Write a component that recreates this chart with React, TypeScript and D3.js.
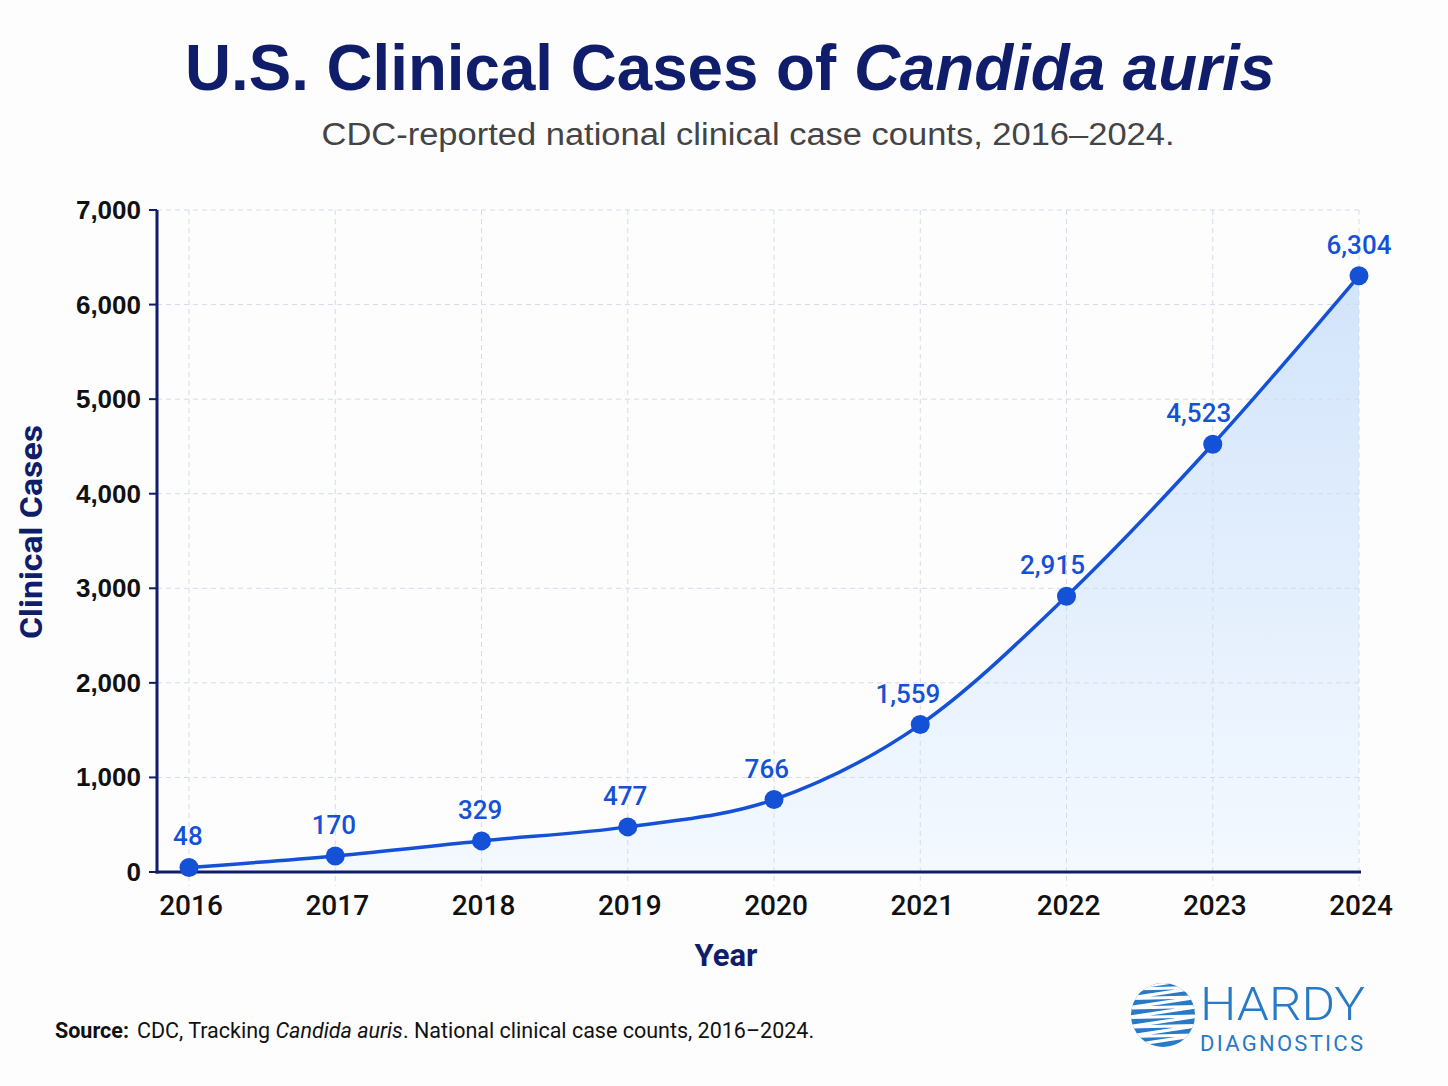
import React from 'react';
import * as d3 from 'd3';

const years = ['2016', '2017', '2018', '2019', '2020', '2021', '2022', '2023', '2024'];
const cases = [48, 170, 329, 477, 766, 1559, 2915, 4523, 6304];
const yTicks = [0, 1000, 2000, 3000, 4000, 5000, 6000, 7000];

const W = 1448;
const H = 1086;
const navy = '#0f1d6b';
const blue = '#1451d6';
const logoBlue = '#2879c6';
const fmt = d3.format(',');

const x = d3.scalePoint<string>().domain(years).range([189, 1359]);
const y = d3.scaleLinear().domain([0, 7000]).range([872, 210]);

type Pt = { year: string; value: number; next: number };
const points: Pt[] = years.map((year, i) => ({
  year,
  value: cases[i],
  next: cases[i + 1] ?? cases[i],
}));

const line = d3
  .line<Pt>()
  .x((d) => x(d.year)!)
  .y((d) => y(d.value))
  .curve(d3.curveMonotoneX);

const area = d3
  .area<Pt>()
  .x((d) => x(d.year)!)
  .y0(y(0))
  .y1((d) => y(d.value))
  .curve(d3.curveMonotoneX);

// nudge value labels left where the line climbs steeply out of the point
const labelShift = (d: Pt) => -Math.min(14, Math.max(0, (d.next - d.value) / 110));

// white zig-zag stripes across the globe mark
const Globe = ({ cx, cy, r }: { cx: number; cy: number; r: number }) => {
  const stripes: [number, number][] = [];
  for (let i = 0; i < 7; i++) {
    const yy = cy + r - 5 - i * 9.5;
    stripes.push([cx - r - 4, yy + 4]);
    stripes.push([cx + r + 4, yy - 7]);
  }
  const zig = d3.line()(stripes) as string;
  return (
    <g>
      <clipPath id="globe-clip">
        <circle cx={cx} cy={cy} r={r} />
      </clipPath>
      <circle cx={cx} cy={cy} r={r} fill={logoBlue} />
      <path d={zig} clipPath="url(#globe-clip)" fill="none" stroke="#fff" strokeWidth={3} />
    </g>
  );
};

export default function App() {
  const top = y(7000);
  const bottom = y(0);
  const left = 157;
  const right = x('2024')!;

  return (
    <div style={{ position: 'absolute', left: 0, top: 0 }}>
      <svg width={W} height={H} style={{ display: 'block', background: '#fdfdfe' }}>
        <defs>
          <linearGradient id="fillGrad" x1="0" y1="0" x2="0" y2="1">
            <stop offset="0%" stopColor="#d2e4fb" />
            <stop offset="100%" stopColor="#f4f9ff" />
          </linearGradient>
        </defs>

        {/* title */}
        <text
          x={730}
          y={90}
          textAnchor="middle"
          fontFamily="Liberation Sans, Arial, sans-serif"
          fontWeight="bold"
          fontSize={64}
          fill={navy}
          textLength={1090}
          lengthAdjust="spacingAndGlyphs"
        >
          U.S. Clinical Cases of <tspan fontStyle="italic">Candida auris</tspan>
        </text>
        <text
          x={748}
          y={145}
          textAnchor="middle"
          fontFamily="Liberation Sans, Arial, sans-serif"
          fontSize={31}
          fill="#444"
          textLength={853}
          lengthAdjust="spacingAndGlyphs"
        >
          CDC-reported national clinical case counts, 2016–2024.
        </text>

        {/* area under the curve */}
        <path d={area(points)!} fill="url(#fillGrad)" />

        {/* grid */}
        {yTicks.slice(1).map((t) => (
          <line
            key={'gy' + t}
            x1={left}
            x2={right}
            y1={y(t)}
            y2={y(t)}
            stroke="#d3dce8"
            strokeWidth={1}
            strokeDasharray="5,4"
          />
        ))}
        {years.map((yr) => (
          <line
            key={'gx' + yr}
            x1={x(yr)}
            x2={x(yr)}
            y1={top}
            y2={bottom + 14}
            stroke="#d3dce8"
            strokeWidth={1}
            strokeDasharray="5,4"
          />
        ))}

        {/* axes */}
        <line x1={left} x2={left} y1={top} y2={bottom + 1.5} stroke={navy} strokeWidth={3} />
        <line x1={left - 1.5} x2={right + 2} y1={bottom} y2={bottom} stroke={navy} strokeWidth={3} />
        {yTicks.map((t) => (
          <g key={'yt' + t}>
            <line x1={left - 8} x2={left} y1={y(t)} y2={y(t)} stroke={navy} strokeWidth={2} />
            <text
              x={141}
              y={y(t) + 9}
              textAnchor="end"
              fontFamily="Liberation Sans, Arial, sans-serif"
              fontWeight="bold"
              fontSize={26}
              fill="#111"
            >
              {fmt(t)}
            </text>
          </g>
        ))}
        {years.map((yr) => (
          <text
            key={'xt' + yr}
            x={x(yr)! + 2}
            y={915}
            textAnchor="middle"
            fontFamily="Roboto, sans-serif"
            fontWeight={500}
            fontSize={28}
            fill="#111"
          >
            {yr}
          </text>
        ))}

        {/* axis titles */}
        <text
          x={726}
          y={966}
          textAnchor="middle"
          fontFamily="Roboto, sans-serif"
          fontWeight="bold"
          fontSize={31}
          fill={navy}
        >
          Year
        </text>
        <text
          transform="translate(42,532) rotate(-90)"
          textAnchor="middle"
          fontFamily="Roboto, sans-serif"
          fontWeight="bold"
          fontSize={31}
          fill={navy}
          textLength={214}
          lengthAdjust="spacingAndGlyphs"
        >
          Clinical Cases
        </text>

        {/* series */}
        <path d={line(points)!} fill="none" stroke={blue} strokeWidth={3.5} />
        {points.map((d) => (
          <circle key={'p' + d.year} cx={x(d.year)} cy={y(d.value)} r={9.5} fill={blue} />
        ))}
        {points.map((d) => (
          <text
            key={'l' + d.year}
            x={x(d.year)! + labelShift(d)}
            y={y(d.value) - 22}
            textAnchor="middle"
            fontFamily="Roboto, sans-serif"
            fontWeight={500}
            fontSize={26}
            fill={blue}
          >
            {fmt(d.value)}
          </text>
        ))}

        {/* source line */}
        <text x={55} y={1038} fontFamily="Roboto, sans-serif" fontSize={21.5} fill="#111">
          <tspan fontWeight="bold">Source:</tspan>
          <tspan dx={8}>CDC, Tracking </tspan>
          <tspan fontStyle="italic">Candida auris</tspan>
          <tspan>. National clinical case counts, 2016–2024.</tspan>
        </text>

        {/* logo */}
        <Globe cx={1163} cy={1015} r={32} />
        <text
          x={1200}
          y={1020}
          fontFamily="Roboto, sans-serif"
          fontWeight={300}
          fontSize={46}
          fill={logoBlue}
          textLength={165}
          lengthAdjust="spacingAndGlyphs"
        >
          HARDY
        </text>
        <text
          x={1200}
          y={1051}
          fontFamily="Roboto, sans-serif"
          fontWeight={400}
          fontSize={22}
          fill={logoBlue}
          textLength={163}
          lengthAdjust="spacing"
        >
          DIAGNOSTICS
        </text>
      </svg>
    </div>
  );
}
